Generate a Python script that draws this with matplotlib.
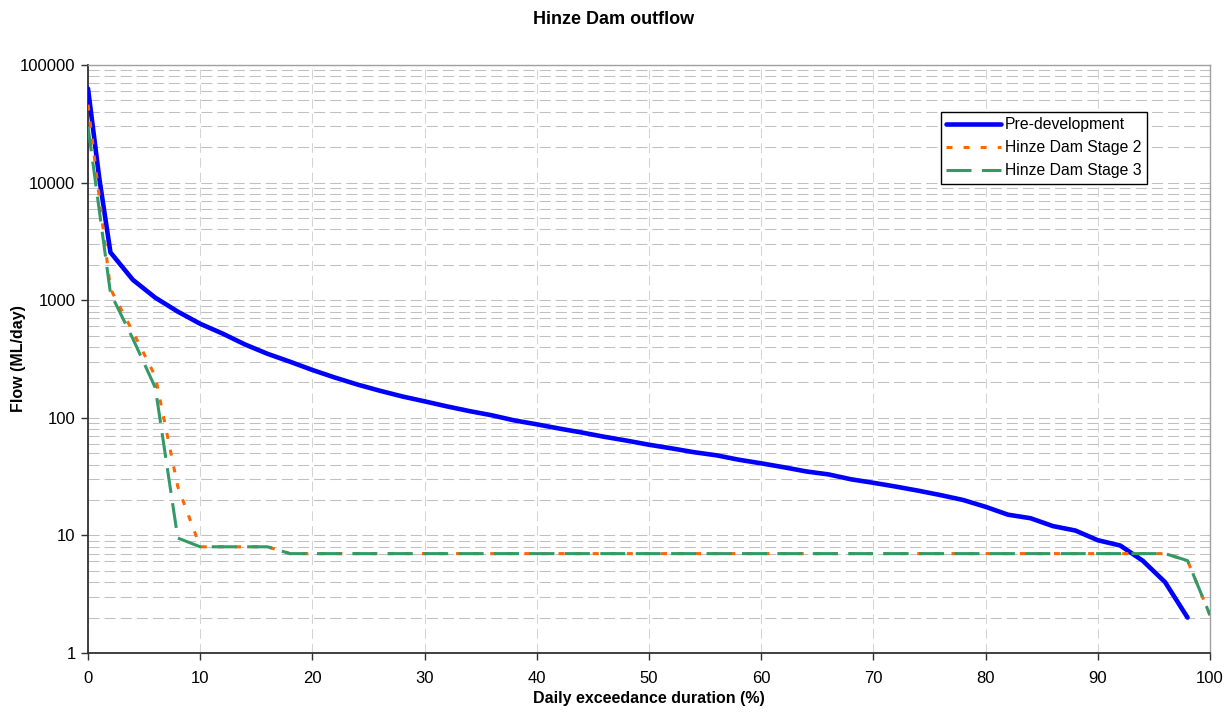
import matplotlib
matplotlib.use("Agg")
import matplotlib.pyplot as plt
from matplotlib.ticker import LogLocator, FixedLocator, NullFormatter, FuncFormatter

plt.rcParams['font.family'] = ['Liberation Sans', 'DejaVu Sans']
plt.rcParams['lines.scale_dashes'] = False

# Data (exceedance %, flow ML/day)
pre_x = [0, 1, 2, 4, 6, 8, 10, 12, 14, 16, 18, 20, 22, 24, 26, 28, 30, 32, 34, 36, 38,
         40, 42, 44, 46, 48, 50, 52, 54, 56, 58, 60, 62, 64, 66, 68, 70, 72, 74, 76, 78,
         80, 82, 84, 86, 88, 90, 92, 94, 96, 98]
pre_y = [63000, 11000, 2550, 1490, 1050, 800, 630, 520, 420, 350, 300, 255, 220, 192, 170,
         152, 138, 125, 114, 105, 95, 88, 81, 75, 69, 64, 59, 55, 51, 48, 44, 41, 38, 35,
         33, 30, 28, 26, 24, 22, 20, 17.5, 15, 14, 12, 11, 9.1, 8.2, 6.1, 4.0, 2.0]

st_x = [0, 2, 4, 6, 8, 10, 12, 14, 16, 18, 20, 30, 40, 50, 60, 70, 80, 90, 96, 98, 100]
st2_y = [46000, 1250, 540, 225, 26, 8, 8, 8, 8, 7, 7, 7, 7, 7, 7, 7, 7, 7, 7, 6.1, 2.1]
st3_y = [30000, 1150, 470, 180, 9.5, 8, 8, 8, 8, 7, 7, 7, 7, 7, 7, 7, 7, 7, 7, 6.1, 2.1]

names = ['Pre-development', 'Hinze Dam Stage 2', 'Hinze Dam Stage 3']
x_ticks = [0, 10, 20, 30, 40, 50, 60, 70, 80, 90, 100]
y_ticks = [1, 10, 100, 1000, 10000, 100000]

fig = plt.figure(figsize=(12.28, 7.15), dpi=100)
ax = fig.add_axes([88/1228, 1-653/715, (1210-88)/1228, (653-65)/715])

ax.set_yscale('log')
ax.set_xlim(0, 100)
ax.set_ylim(1, 100000)

# grid
ax.yaxis.set_major_locator(FixedLocator(y_ticks))
ax.yaxis.set_minor_locator(LogLocator(base=10, subs=range(2, 10), numticks=20))
ax.yaxis.set_major_formatter(FuncFormatter(lambda v, p: f"{int(round(v))}"))
ax.yaxis.set_minor_formatter(NullFormatter())
ax.xaxis.set_major_locator(FixedLocator(x_ticks))
ax.grid(True, which='both', axis='y', color='#c0c0c0', linewidth=0.75,
        linestyle=(0, (8, 3.6)))
ax.grid(True, which='major', axis='x', color='#d4d4d4', linewidth=0.75,
        linestyle=(0, (7, 3.6)))
ax.set_axisbelow(True)

ax.plot(pre_x, pre_y, color='#0000FF', linewidth=3.3, label=names[0], zorder=3,
        solid_joinstyle='round', solid_capstyle='round')
ax.plot(st_x, st2_y, color='#FF6600', linewidth=2.2, linestyle=(0, (4.3, 8.0)),
        label=names[1], zorder=4)
ax.plot(st_x, st3_y, color='#339966', linewidth=2.2, linestyle=(0, (18, 7.5)),
        label=names[2], zorder=5)

for s in ['top', 'right']:
    ax.spines[s].set_color('#a0a0a0')
    ax.spines[s].set_linewidth(1.0)
for s in ['left', 'bottom']:
    ax.spines[s].set_color('#303030')
    ax.spines[s].set_linewidth(1.3)

ax.tick_params(axis='both', which='major', direction='out', length=5, width=1,
               colors='#303030', labelcolor='black', labelsize=12)
ax.tick_params(axis='y', which='minor', length=0)
ax.tick_params(axis='x', pad=8)
ax.tick_params(axis='y', pad=4)

ax.set_xlabel('Daily exceedance duration (%)', fontsize=11.5, fontweight='bold')
ax.xaxis.set_label_coords(0.5, -(691-653)/588)
ax.set_ylabel('Flow (ML/day)', fontsize=11.5, fontweight='bold')
ax.yaxis.set_label_coords(-(88-26)/1122, 0.5)
fig.text(0.5, 1-19/715, 'Hinze Dam outflow', ha='center', va='center',
         fontsize=13, fontweight='bold')

leg = ax.legend(loc='upper left', bbox_to_anchor=((941-88)/1122, (653-112)/588),
                borderaxespad=0, fancybox=False, framealpha=1, edgecolor='black',
                fontsize=11.3, handlelength=3.5, handletextpad=0.2,
                labelspacing=0.5, borderpad=0.35)
leg.get_frame().set_linewidth(1.0)

fig.savefig('out.png', dpi=100)
